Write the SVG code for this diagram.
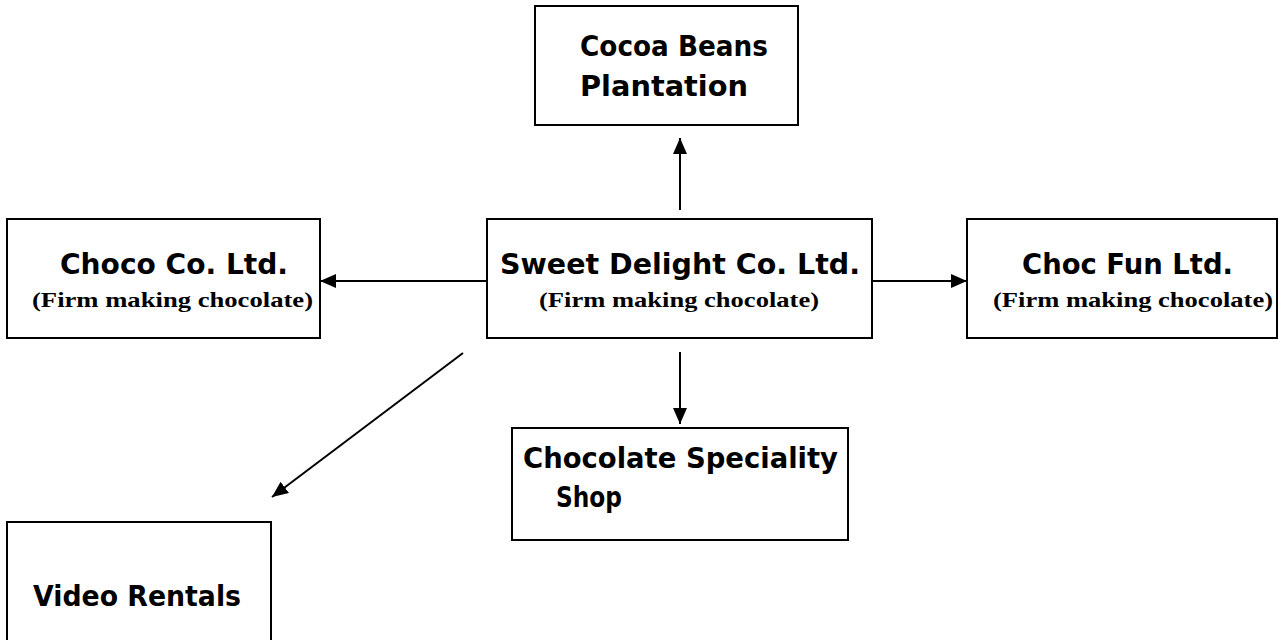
<svg xmlns="http://www.w3.org/2000/svg" width="1279" height="640" viewBox="0 0 1279 640">
<style>
.box{fill:#fff;stroke:#000;stroke-width:2}
.t{font-family:"DejaVu Sans","Liberation Sans",sans-serif;font-weight:bold;font-size:28px;fill:#000}
.s{font-family:"Liberation Serif","Times New Roman",serif;font-weight:bold;font-size:22px;fill:#000}
.c{stroke:#000;stroke-width:2;fill:none;marker-end:url(#ah)}
</style>
<defs>
<marker id="ah" viewBox="0 0 16 14" refX="16" refY="7" markerWidth="16" markerHeight="14" markerUnits="userSpaceOnUse" orient="auto">
<path d="M0,0 L16,7 L0,14 Z" fill="#000"/>
</marker>
</defs>
<g id="connectors">
<line class="c" x1="680" y1="210" x2="680" y2="138"/>
<line class="c" x1="487" y1="281" x2="320" y2="281"/>
<line class="c" x1="872" y1="281" x2="967" y2="281"/>
<line class="c" x1="680" y1="352" x2="680" y2="424"/>
<line class="c" x1="463" y1="353" x2="272" y2="497"/>
</g>
<g id="cocoa">
<rect class="box" x="535" y="6" width="263" height="119"/>
<text class="t" x="580" y="56" textLength="188" lengthAdjust="spacingAndGlyphs">Cocoa Beans</text>
<text class="t" x="580" y="96" textLength="168" lengthAdjust="spacingAndGlyphs">Plantation</text>
</g>
<g id="choco">
<rect class="box" x="7" y="219" width="313" height="119"/>
<text class="t" x="60" y="274" textLength="228" lengthAdjust="spacingAndGlyphs">Choco Co. Ltd.</text>
<text class="s" x="32" y="307" textLength="281" lengthAdjust="spacingAndGlyphs">(Firm making chocolate)</text>
</g>
<g id="sweet">
<rect class="box" x="487" y="219" width="385" height="119"/>
<text class="t" x="500" y="274" textLength="360" lengthAdjust="spacingAndGlyphs">Sweet Delight Co. Ltd.</text>
<text class="s" x="539" y="307" textLength="280" lengthAdjust="spacingAndGlyphs">(Firm making chocolate)</text>
</g>
<g id="chocfun">
<rect class="box" x="967" y="219" width="310" height="119"/>
<text class="t" x="1022" y="274" textLength="211" lengthAdjust="spacingAndGlyphs">Choc Fun Ltd.</text>
<text class="s" x="993" y="307" textLength="280" lengthAdjust="spacingAndGlyphs">(Firm making chocolate)</text>
</g>
<g id="shop">
<rect class="box" x="512" y="428" width="336" height="112"/>
<text class="t" x="523" y="468" textLength="315" lengthAdjust="spacingAndGlyphs">Chocolate Speciality</text>
<text class="t" x="556" y="507" textLength="66" lengthAdjust="spacingAndGlyphs">Shop</text>
</g>
<g id="video">
<rect class="box" x="7" y="522" width="264" height="130"/>
<text class="t" x="33" y="606" textLength="208" lengthAdjust="spacingAndGlyphs">Video Rentals</text>
</g>
</svg>
